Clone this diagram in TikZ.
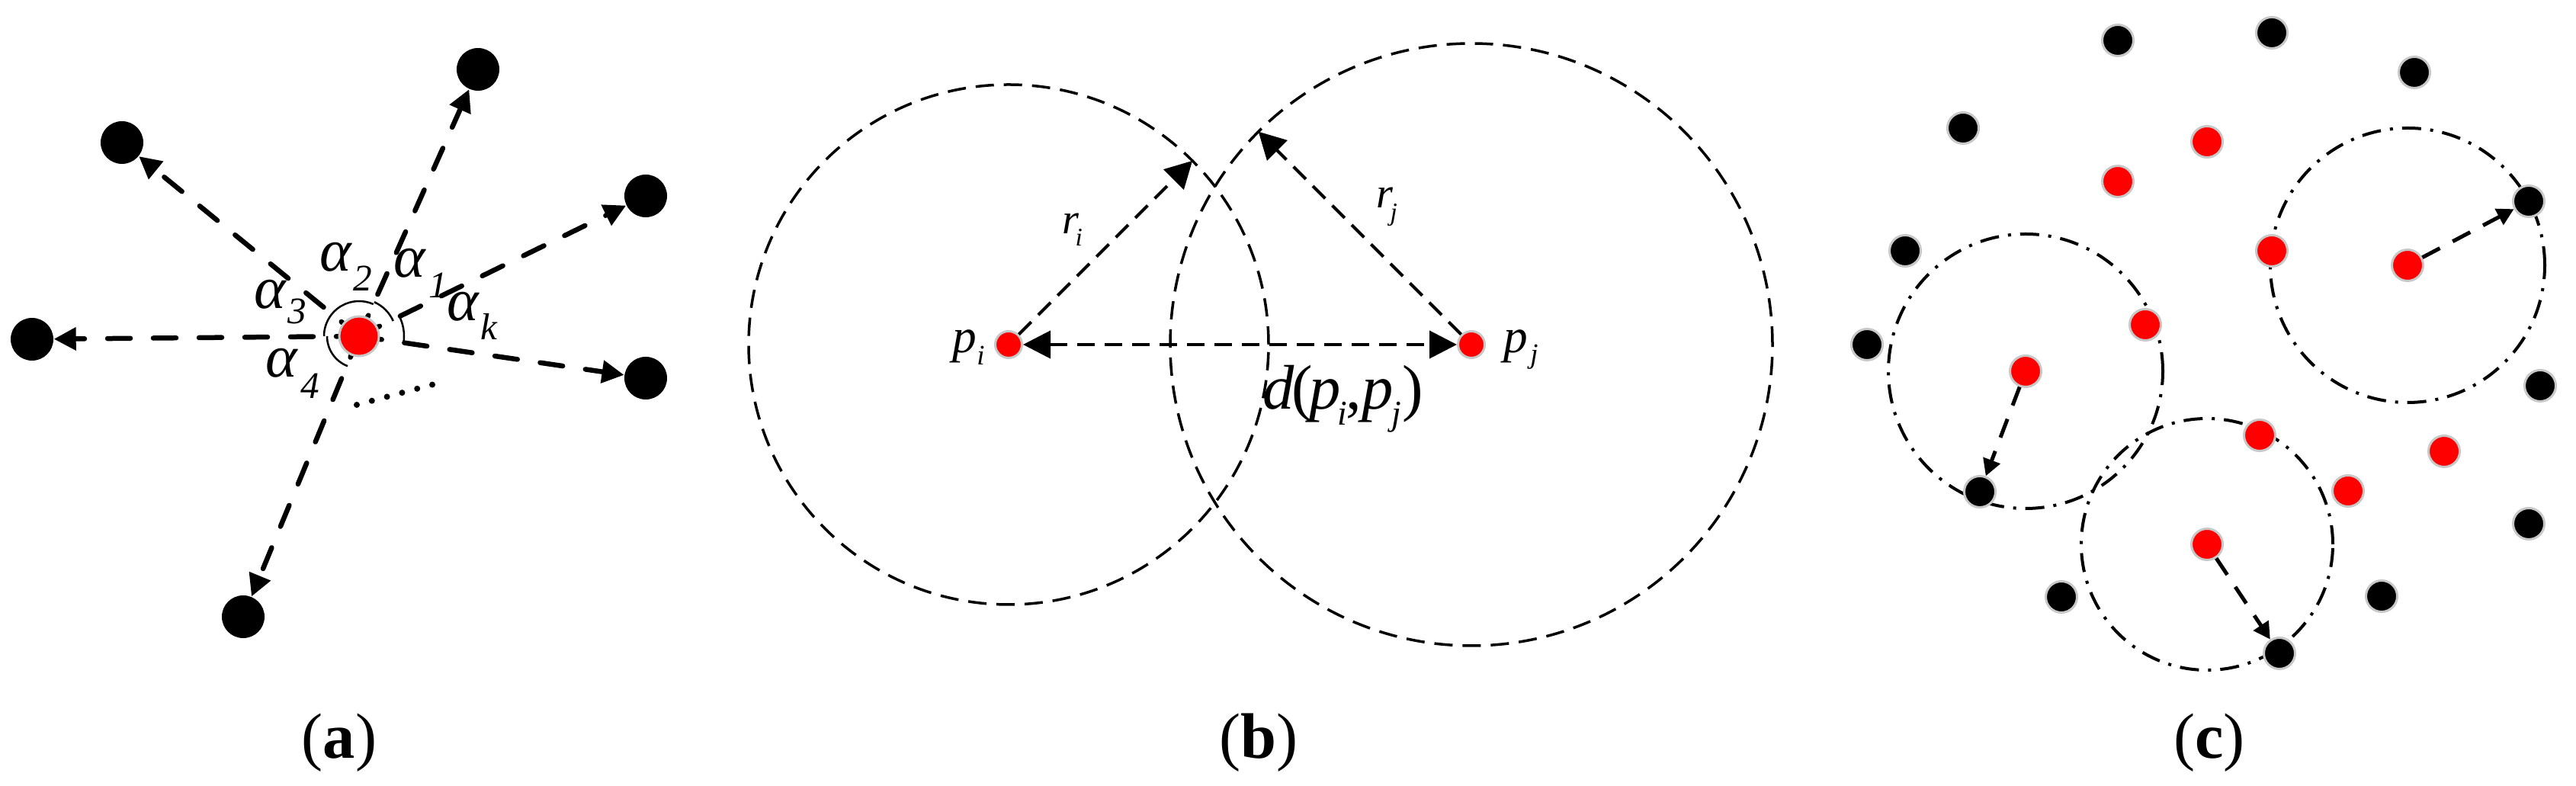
\documentclass[tikz,border=0pt]{standalone}
\usepackage{fontspec}
\setmainfont{Liberation Serif}
\usetikzlibrary{arrows.meta,calc}
\definecolor{rimgray}{RGB}{200,200,200}
\newcommand{\lowidx}[3]{\raisebox{-#2}{\fontsize{#1}{#1}\selectfont\itshape #3}}
\tikzset{
  blk/.style={circle,fill=black,inner sep=0pt,minimum size=0.56cm},
  hubdot/.style={circle,fill=red,draw=rimgray,line width=0.03cm,inner sep=0pt,minimum size=0.52cm},
  pdot/.style={circle,fill=red,draw=rimgray,line width=0.03cm,inner sep=0pt,minimum size=0.35cm},
  sblk/.style={circle,fill=black,draw=rimgray,line width=0.03cm,inner sep=0pt,minimum size=0.41cm},
  sred/.style={circle,fill=red,draw=rimgray,line width=0.03cm,inner sep=0pt,minimum size=0.41cm},
  spoke/.style={line width=0.065cm,line cap=round,dash pattern=on 0.30cm off 0.30cm,-{Triangle[length=0.29cm,width=0.29cm]}},
  anglearc/.style={line width=0.025cm},
  radline/.style={line width=0.04cm,dash pattern=on 0.23cm off 0.13cm},
  rangecirc/.style={line width=0.035cm,dash pattern=on 0.24cm off 0.13cm},
  clustring/.style={line width=0.04cm,dash pattern=on 0.25cm off 0.12cm on 0.04cm off 0.12cm},
  reachline/.style={line width=0.05cm,dash pattern=on 0.26cm off 0.19cm,-{Triangle[length=0.22cm,width=0.23cm]}},
  lbl/.style={inner sep=0pt,anchor=base west,font=\fontsize{22.5}{24}\selectfont\itshape},
  plbl/.style={inner sep=0pt,anchor=base west,font=\fontsize{18}{20}\selectfont\itshape},
  rlbl/.style={inner sep=0pt,anchor=base west,font=\fontsize{16}{18}\selectfont\itshape},
  subcap/.style={inner sep=0pt,anchor=base,font=\fontsize{24}{28}\selectfont}
}
\begin{document}
\begin{tikzpicture}
\useasboundingbox (0,0) rectangle (33.79,10.31);

% (a)
\coordinate (o) at (4.71,5.90);
\node (top) [blk] at (6.27,9.40) {};
\node (ul) [blk] at (1.60,8.44) {};
\node (ru) [blk] at (8.47,7.74) {};
\node (lf) [blk] at (0.42,5.86) {};
\node (rl) [blk] at (8.47,5.35) {};
\node (bt) [blk] at (3.19,2.22) {};
\draw [spoke] (o) -- (top);
\draw [spoke] (o) -- (ul);
\draw [spoke] (o) -- (ru);
\draw [spoke] (o) -- (lf);
\draw [spoke] (o) -- (rl);
\draw [spoke] (o) -- (bt);
\draw [anglearc] ([shift={(180:0.46)}]o) arc (180:66:0.46);
\draw [anglearc] ([shift={(66:0.49)}]o) arc (66:24:0.49);
\draw [anglearc] ([shift={(28:0.59)}]o) arc (28:-9:0.59);
\draw [anglearc] ([shift={(180:0.42)}]o) arc (180:249:0.42);
\node (hub) [hubdot] at (o) {};
\draw [line width=0.08cm,line cap=round,dash pattern=on 0pt off 0.205cm] (4.68,5.00) -- (5.73,5.28);
\node (al2) [lbl] at (4.19,6.75) {α\kern0.02cm\lowidx{14}{0.26cm}{2}};
\node (al1) [lbl] at (5.16,6.67) {α\kern0.04cm\lowidx{14}{0.27cm}{1}};
\node (al3) [lbl] at (3.33,6.26) {α\kern0.02cm\lowidx{14}{0.20cm}{3}};
\node (alk) [lbl] at (5.86,6.10) {α\kern0.02cm\lowidx{14}{0.25cm}{k}};
\node (al4) [lbl] at (3.48,5.36) {α\kern0.04cm\lowidx{14}{0.28cm}{4}};
\node (capa) [subcap] at (4.45,0.36) {(\textbf{a})};

% (b)
\node (pi) [pdot] at (13.23,5.79) {};
\node (pj) [pdot] at (19.30,5.79) {};
\draw [rangecirc] (pi.center) circle (3.41);
\draw [rangecirc] (pj.center) circle (3.95);
\coordinate (ti) at ($(pi.center)+(45:3.41)$);
\coordinate (tj) at ($(pj.center)+(135:3.95)$);
\draw [radline,-{Triangle[length=0.35cm,width=0.37cm]}] (pi) -- (ti);
\draw [radline,-{Triangle[length=0.35cm,width=0.37cm]}] (pj) -- (tj);
\draw [radline,{Triangle[length=0.36cm,width=0.36cm]}-{Triangle[length=0.36cm,width=0.36cm]}] (pi) -- (pj);
\node (lpi) [plbl] at (12.49,5.68) {p\lowidx{10.5}{0.16cm}{i}};
\node (lpj) [plbl] at (19.72,5.68) {p\kern0.03cm\lowidx{10.5}{0.14cm}{j}};
\node (lri) [rlbl] at (13.93,7.24) {r\kern-0.05cm\lowidx{9.5}{0.16cm}{i}};
\node (lrj) [rlbl] at (18.05,7.58) {r\kern-0.04cm\lowidx{9.5}{0.17cm}{j}};
\node (ld) [inner sep=0pt,anchor=base,font=\fontsize{23.5}{26}\selectfont] at (17.62,4.94) {\textit{d}\kern-0.05em(\kern-0.05em\textit{p}\kern-0.05em\lowidx{13}{0.21cm}{i}\kern-0.02em,\textit{p}\kern-0.03em\lowidx{13}{0.21cm}{j}\kern0.02em)};
\node (capb) [subcap] at (16.51,0.36) {(\textbf{b})};

% (c)
\draw [clustring] (26.57,5.44) circle (1.80);
\draw [clustring] (31.58,6.83) circle (1.80);
\draw [clustring] (28.95,3.17) circle (1.65);
\node (k1) [sblk] at (27.78,9.78) {};
\node (k2) [sblk] at (29.80,9.88) {};
\node (k3) [sblk] at (31.67,9.36) {};
\node (k4) [sblk] at (25.75,8.63) {};
\node (k5) [sblk] at (24.99,7.02) {};
\node (k6) [sblk] at (24.49,5.79) {};
\node (k7) [sblk] at (33.17,7.67) {};
\node (k8) [sblk] at (33.32,5.25) {};
\node (k9) [sblk] at (25.97,3.86) {};
\node (k10) [sblk] at (33.17,3.44) {};
\node (k11) [sblk] at (27.04,2.48) {};
\node (k12) [sblk] at (31.24,2.49) {};
\node (k13) [sblk] at (29.90,1.74) {};
\node (q1) [sred] at (28.95,8.45) {};
\node (q2) [sred] at (27.78,7.93) {};
\node (q3) [sred] at (29.80,7.02) {};
\node (q4) [sred] at (31.58,6.83) {};
\node (q5) [sred] at (28.14,6.05) {};
\node (q6) [sred] at (26.57,5.44) {};
\node (q7) [sred] at (29.64,4.60) {};
\node (q8) [sred] at (32.06,4.39) {};
\node (q9) [sred] at (30.80,3.87) {};
\node (q10) [sred] at (28.95,3.17) {};
\draw [reachline] (q6) -- (k9);
\draw [reachline] (q4) -- (k7);
\draw [reachline] (q10) -- (k13);
\node (capc) [subcap] at (28.98,0.36) {(\textbf{c})};
\end{tikzpicture}
\end{document}
